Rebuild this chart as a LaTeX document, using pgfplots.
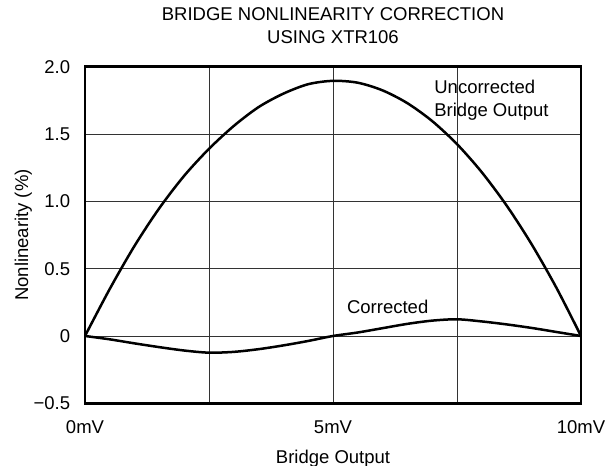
\documentclass[border=0pt]{standalone}
\usepackage{fontspec}
\setmainfont{Liberation Sans}
\usepackage{pgfplots}
\pgfplotsset{compat=1.18}
\usetikzlibrary{calc}

\begin{document}
\fontsize{18.5bp}{22.7bp}\selectfont
\begin{tikzpicture}
\begin{axis}[
  scale only axis,
  width=496bp, height=336.6bp,
  xmin=0, xmax=10, ymin=-0.5, ymax=2.0,
  xtick={0,5,10}, xticklabels={0mV,5mV,10mV},
  minor xtick={2.5,7.5},
  ytick={-0.5,0,0.5,1,1.5,2},
  yticklabels={−0.5,0,0.5,1.0,1.5,2.0},
  grid=both,
  major grid style={black!80, line width=0.9bp},
  minor grid style={black!80, line width=0.9bp},
  major tick length=0pt, minor tick length=0pt,
  axis line style={line width=2.6bp},
  xticklabel style={anchor=base, yshift=-30bp},
  yticklabel style={anchor=east, xshift=-8.5bp},
  title={BRIDGE NONLINEARITY CORRECTION\\USING XTR106},
  title style={align=center, at={(axis description cs:0.5,1)}, anchor=south, inner sep=0pt, yshift=16.7bp},
  xlabel={Bridge Output},
  xlabel style={at={(axis description cs:0.5,-0.1783)}, anchor=base, inner sep=0pt},
  ylabel={Nonlinearity (\%)},
  ylabel style={at={(axis description cs:-0.1149,0.5)}, anchor=base, inner sep=0pt},
]
% uncorrected bridge output
\addplot[black, line width=2.5bp, smooth] coordinates {
  (0,0) (0.5,0.35) (1,0.67) (1.5,0.95) (2,1.19) (2.5,1.39) (3,1.56)
  (3.5,1.70) (4,1.80) (4.5,1.87) (5,1.895) (5.5,1.881) (6,1.824)
  (6.5,1.729) (7,1.596) (7.5,1.425) (8,1.216) (8.5,0.969) (9,0.684)
  (9.5,0.361) (10,0)
};
% corrected with XTR106
\addplot[black, line width=2.5bp, smooth] coordinates {
  (0,0) (0.5,-0.025) (1,-0.055) (1.5,-0.083) (2,-0.108) (2.5,-0.124)
  (3,-0.118) (3.5,-0.098) (4,-0.07) (4.5,-0.037) (5,0) (5.5,0.026)
  (6,0.058) (6.5,0.09) (7,0.114) (7.5,0.124) (8,0.108) (8.5,0.086)
  (9,0.06) (9.5,0.03) (10,0)
};
\node[anchor=base west, inner sep=0pt] at (axis cs:5.28,0.169) {Corrected};
\node[anchor=base west, inner sep=0pt] at (axis cs:7.04,1.803) {Uncorrected};
\node[anchor=base west, inner sep=0pt] at (axis cs:7.04,1.629) {Bridge Output};
\coordinate (sw) at (rel axis cs:0,0);
\coordinate (ne) at (rel axis cs:1,1);
\end{axis}
\pgfresetboundingbox
\useasboundingbox ($(sw)+(-85bp,-62.7bp)$) rectangle ($(ne)+(27bp,66.7bp)$);
\end{tikzpicture}
\end{document}
